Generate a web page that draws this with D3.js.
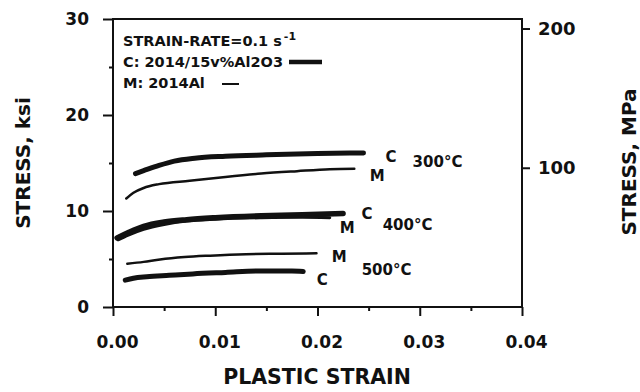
<!DOCTYPE html>
<html>
<head>
<meta charset="utf-8">
<script src="https://cdn.jsdelivr.net/npm/d3@7"></script>
<style>
  body { margin: 0; background: white; }
  text { font-family: "DejaVu Sans", sans-serif; font-weight: bold; fill: #111; }
</style>
</head>
<body>
<div id="chart"></div>
<script>
// curves: [plastic strain, stress ksi]
const c300 = [[0.0022,13.9],[0.003,14.2],[0.0045,14.75],[0.006,15.2],[0.008,15.5],[0.011,15.7],[0.015,15.85],[0.02,16.0],[0.0245,16.05]]
const m300 = [[0.0013,11.3],[0.002,11.9],[0.003,12.4],[0.0045,12.8],[0.0075,13.15],[0.011,13.55],[0.0145,13.9],[0.018,14.15],[0.0212,14.35],[0.0236,14.4]]
const c400 = [[0.0004,7.2],[0.0015,7.75],[0.003,8.4],[0.005,8.85],[0.0072,9.1],[0.01,9.3],[0.0145,9.5],[0.0185,9.6],[0.0225,9.75]]
const m400 = [[0.0005,7.0],[0.0015,7.5],[0.003,8.1],[0.005,8.6],[0.0072,8.95],[0.01,9.15],[0.0145,9.3],[0.0185,9.35],[0.0212,9.3]]
const m500 = [[0.0014,4.5],[0.003,4.7],[0.0046,4.95],[0.007,5.2],[0.0095,5.35],[0.013,5.5],[0.0165,5.55],[0.0199,5.6]]
const c500 = [[0.0012,2.8],[0.002,3.0],[0.0033,3.15],[0.0055,3.3],[0.0078,3.45],[0.011,3.6],[0.0144,3.75],[0.0175,3.75],[0.0186,3.7]]

const xTicks = [0, 0.01, 0.02, 0.03, 0.04]
const xMinor = [0.005, 0.015, 0.025, 0.035]
const yTicks = [0, 10, 20, 30]
const yMinor = [5, 15, 25]
const mpaTicks = [100, 200]

// curve labels: [text, strain, ksi]
const curveLabels = [
  ["C", 0.02666, 15.1], ["300°C", 0.0293, 14.58], ["M", 0.0251, 13.125],
  ["C", 0.0243, 9.17], ["M", 0.02217, 7.71], ["400°C", 0.02637, 8.02],
  ["M", 0.02139, 4.69], ["C", 0.01992, 2.29], ["500°C", 0.02432, 3.33]
]

const KSI_TO_MPA = 6.89476

const svg = d3.select("#chart").append("svg")
    .attr("width", 640)
    .attr("height", 392)

const x = d3.scaleLinear().domain([0, 0.04]).range([113, 522])
const y = d3.scaleLinear().domain([0, 30]).range([307, 19])
const yMpa = d3.scaleLinear().domain([0, 30 * KSI_TO_MPA]).range([307, 19])

// minor ticks first
svg.append("g").attr("transform", "translate(0,307)")
    .call(d3.axisBottom(x).tickValues(xMinor).tickSize(4).tickFormat(""))
svg.append("g").attr("transform", "translate(113,0)")
    .call(d3.axisLeft(y).tickValues(yMinor).tickSize(4).tickFormat(""))

const xAxis = svg.append("g").attr("transform", "translate(0,307)")
    .call(d3.axisBottom(x).tickValues(xTicks).tickSize(9).tickPadding(20).tickFormat(d3.format(".2f")))
xAxis.selectAll("text").attr("dx", 4).style("font-size", "17px")

const yAxis = svg.append("g").attr("transform", "translate(113,0)")
    .call(d3.axisLeft(y).tickValues(yTicks).tickSize(10).tickPadding(14))
yAxis.selectAll("text").style("font-size", "17px")

const rAxis = svg.append("g").attr("transform", "translate(522,0)")
    .call(d3.axisRight(yMpa).tickValues(mpaTicks).tickSize(8).tickPadding(8))
rAxis.selectAll("text").style("font-size", "18px")

svg.selectAll(".domain").remove()
svg.selectAll(".tick line").attr("stroke", "#111").attr("stroke-width", 2)

// frame
svg.append("rect")
    .attr("x", x(0)).attr("y", y(30))
    .attr("width", x(0.04) - x(0)).attr("height", y(0) - y(30))
    .attr("fill", "none").attr("stroke", "#111").attr("stroke-width", 2)

// axis titles
svg.append("text")
    .attr("transform", "translate(30," + 163 + ") rotate(-90)")
    .attr("text-anchor", "middle")
    .style("font-size", "20px")
    .text("STRESS, ksi")

svg.append("text")
    .attr("transform", "translate(636," + 162 + ") rotate(-90)")
    .attr("text-anchor", "middle")
    .style("font-size", "20px")
    .text("STRESS, MPa")

svg.append("text")
    .attr("x", 317).attr("y", 384)
    .attr("text-anchor", "middle")
    .style("font-size", "20.5px")
    .text("PLASTIC STRAIN")

// curves
const line = d3.line()
    .x(d => x(d[0]))
    .y(d => y(d[1]))
    .curve(d3.curveMonotoneX)

const curves = [
  { data: c300, w: 5 }, { data: m300, w: 2.5 },
  { data: c400, w: 5.5 }, { data: m400, w: 3 },
  { data: m500, w: 2.5 }, { data: c500, w: 5 }
]

svg.selectAll(".curve")
    .data(curves)
    .join("path")
    .attr("class", "curve")
    .attr("d", d => line(d.data))
    .attr("fill", "none")
    .attr("stroke", "#111")
    .attr("stroke-width", d => d.w)
    .attr("stroke-linecap", "round")

svg.selectAll(".clabel")
    .data(curveLabels)
    .join("text")
    .attr("class", "clabel")
    .attr("x", d => x(d[1]))
    .attr("y", d => y(d[2]))
    .style("font-size", "15px")
    .text(d => d[0])

// legend
const legend = svg.append("g")

const rate = legend.append("text")
    .attr("x", 123).attr("y", 46)
    .style("font-size", "14.5px")
    .text("STRAIN-RATE=0.1 s")
rate.append("tspan")
    .attr("dy", -6).attr("dx", 2)
    .style("font-size", "11px")
    .text("-1")

legend.append("text")
    .attr("x", 123).attr("y", 67)
    .style("font-size", "14.5px")
    .text("C: 2014/15v%Al2O3")
legend.append("line")
    .attr("x1", 289).attr("x2", 322).attr("y1", 62).attr("y2", 62)
    .attr("stroke", "#111").attr("stroke-width", 4.5)

legend.append("text")
    .attr("x", 123).attr("y", 88)
    .style("font-size", "14.5px")
    .text("M: 2014Al")
legend.append("line")
    .attr("x1", 222).attr("x2", 239).attr("y1", 84).attr("y2", 84)
    .attr("stroke", "#111").attr("stroke-width", 2)
</script>
</body>
</html>
